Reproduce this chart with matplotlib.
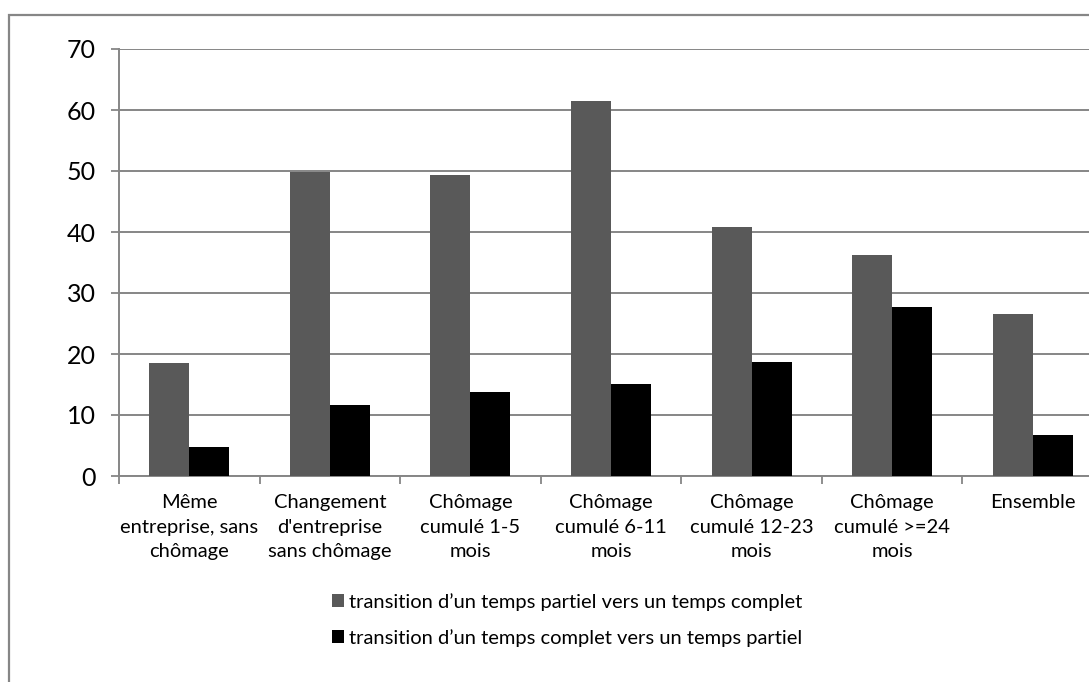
#!/usr/bin/python3
# -*- coding: utf-8 -*-

# Transitions temps partiel / temps complet selon le parcours
# barres groupées, style Excel

import numpy as np
import matplotlib
matplotlib.use('Agg')
import matplotlib.pyplot as plt
from matplotlib.patches import Rectangle

categories = ["Même\nentreprise, sans\nchômage",
              "Changement\nd'entreprise\nsans chômage",
              "Chômage\ncumulé 1-5\nmois",
              "Chômage\ncumulé 6-11\nmois",
              "Chômage\ncumulé 12-23\nmois",
              "Chômage\ncumulé >=24\nmois",
              "Ensemble"]
partiel_vers_complet = [18.6, 49.9, 49.4, 61.4, 40.8, 36.3, 26.6]
complet_vers_partiel = [4.8, 11.7, 13.8, 15.1, 18.7, 27.7, 6.8]
series_labels = ["transition d’un temps partiel vers un temps complet",
                 "transition d’un temps complet vers un temps partiel"]
y_ticks = [0, 10, 20, 30, 40, 50, 60, 70]


def main():

    plt.rcParams['font.family'] = ['Lato', 'DejaVu Sans']
    W, H = 1089, 682
    fig = plt.figure(figsize=(W / 100, H / 100), dpi=100)

    # axes placés en pixels (le bord droit sort de l'image)
    left, right, top, bottom = 119, 1103, 49, 476
    ax = fig.add_axes([left / W, 1 - bottom / H,
                       (right - left) / W, (bottom - top) / H])

    grid_col = '#868686'
    x = np.arange(len(categories))
    bw = 0.2845
    b1 = ax.bar(x - bw / 2, partiel_vers_complet, width=bw,
                color='#595959', zorder=3)
    b2 = ax.bar(x + bw / 2, complet_vers_partiel, width=bw,
                color='#000000', zorder=3)

    ax.set_xlim(-0.5, len(categories) - 0.5)
    ax.set_ylim(0, 70)
    ax.set_yticks(y_ticks)
    ax.set_yticklabels([str(v) for v in y_ticks], fontsize=18)
    ax.tick_params(axis='y', length=5.8, width=1.3, color=grid_col, pad=11)
    ax.yaxis.grid(True, color=grid_col, linewidth=1.4, zorder=0)

    ax.set_xticks(x)
    ax.set_xticklabels(categories, fontsize=14.5, linespacing=1.55)
    ax.tick_params(axis='x', length=0, pad=13)
    ax.set_xticks(np.arange(len(categories) + 1) - 0.5, minor=True)
    ax.tick_params(axis='x', which='minor', length=5.5, width=1.3,
                   color=grid_col)

    for s in ['top', 'right']:
        ax.spines[s].set_visible(False)
    for s in ['left', 'bottom']:
        ax.spines[s].set_color(grid_col)
        ax.spines[s].set_linewidth(1.4)

    fig.legend([b1, b2], series_labels,
               loc='upper center', bbox_to_anchor=(567 / W, 1 - 583 / H),
               frameon=False, fontsize=14.5, handlelength=0.6,
               handleheight=0.6, handletextpad=0.25, labelspacing=0.9,
               borderpad=0)

    # cadre extérieur du graphique
    fig.patches.append(Rectangle((9 / W, -0.1), 1.2, 1 - 15 / H + 0.1,
                                 transform=fig.transFigure, fill=False,
                                 edgecolor=grid_col, linewidth=1.6))

    fig.savefig('out.png', dpi=100)


if __name__ == '__main__':

    main()
